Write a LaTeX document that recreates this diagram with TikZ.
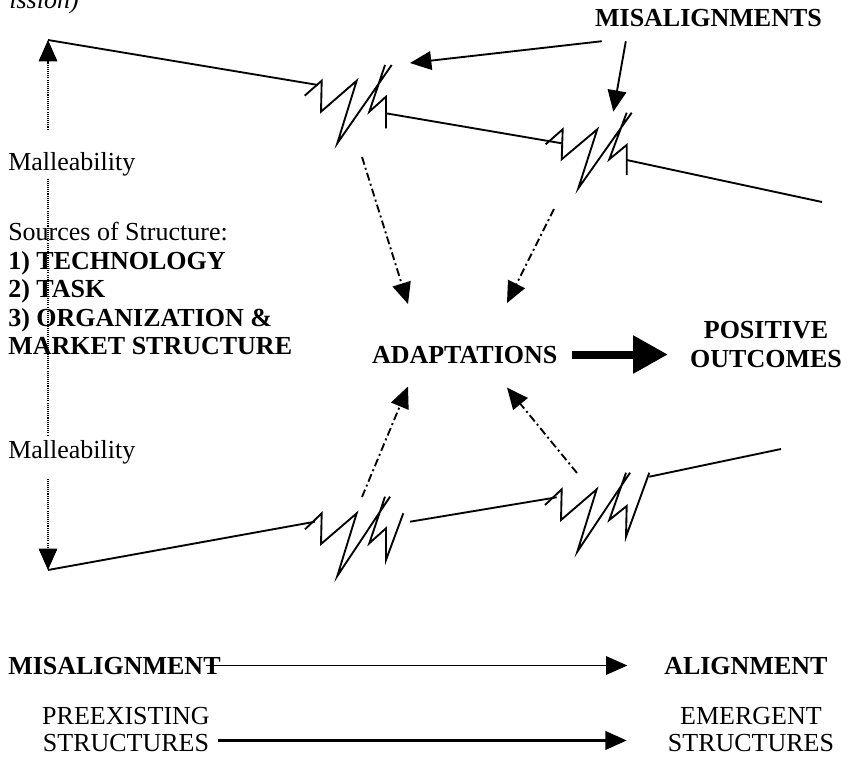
\documentclass[tikz,border=0pt]{standalone}
\usepackage{fontspec}
\setmainfont{Liberation Serif}
\usetikzlibrary{arrows.meta,calc}

\tikzset{
  lbl/.style={inner sep=0pt,font=\fontsize{19.5}{21.4}\selectfont},
  boldlbl/.style={inner sep=0pt,font=\fontsize{19.5}{21.4}\selectfont\bfseries},
  zig/.style={line width=1.4pt,line join=miter},
  arr/.style={line width=1.4pt,-{Triangle[length=16pt,width=14pt]}},
  dotarr/.style={line width=0.8pt,dash pattern=on 0.8pt off 0.8pt},
  dasharr/.style={arr,dash pattern=on 6pt off 2.5pt on 1.5pt off 2.5pt},
  bigarr/.style={line width=6pt,-{Triangle[length=26pt,width=27pt]}},
}

\begin{document}
\begin{tikzpicture}[x=0.75pt,y=0.75pt,yscale=-1,xscale=1]
	\useasboundingbox (0,0) rectangle (851,757);
	
	% Text Node
	\node [lbl,anchor=base east,font=\fontsize{19.5}{21.4}\selectfont\itshape] (perm) at (79,8) {ission)};
	% Text Node
	\node [boldlbl,anchor=base] (misalS) at (708.5,26.7) {MISALIGNMENTS};
	% Text Node
	\node [lbl,anchor=base west] (mall1) at (8,170) {Malleability};
	% Text Node
	\node [lbl,anchor=north west,align=left] (src) at (8,222) {Sources of Structure:\\\textbf{1) TECHNOLOGY}\\\textbf{2) TASK}\\\textbf{3) ORGANIZATION \&}\\\textbf{MARKET STRUCTURE}};
	% Text Node
	\node [boldlbl,anchor=base] (adapt) at (464.7,363) {ADAPTATIONS};
	% Text Node
	\node [boldlbl,anchor=north,align=center] (outc) at (766,321.5) {POSITIVE\\OUTCOMES};
	% Text Node
	\node [lbl,anchor=base west] (mall2) at (8,458) {Malleability};
	% Text Node
	\node [boldlbl,anchor=base west] (misal) at (8,674) {MISALIGNMENT};
	% Text Node
	\node [boldlbl,anchor=base west] (align) at (664,674) {ALIGNMENT};
	% Text Node
	\node [lbl,anchor=north,align=center,font=\fontsize{19.5}{20.2}\selectfont] (preex) at (126,707) {PREEXISTING\\STRUCTURES};
	% Text Node
	\node [lbl,anchor=north,align=center,font=\fontsize{19.5}{20.2}\selectfont] (emerg) at (751,707) {EMERGENT\\STRUCTURES};
	
	% ends of the structure lines
	\coordinate (tl) at (48,40);
	\coordinate (bl) at (48,570);
	\coordinate (z1a) at (410,63);
	\coordinate (z2a) at (613.3,111.7);
	\coordinate (zu1) at (362,157);
	\coordinate (zu2) at (554,209);
	\coordinate (zd1) at (362,497);
	\coordinate (zd2) at (577,473);
	
	%Straight Lines (upper structure)
	\draw [zig] (tl) -- (318,85);
	\draw [zig] (386,113.3) -- (561.7,143.3);
	\draw [zig] (626.7,160) -- (822,202);
	%Zigzag breaks
	\draw [zig,shift={(321.7,80.7)}] (-17,15) -- (0,0) -- (-0.7,31) -- (35,0) -- (15.6,62.6) -- (70,-15.7) (63.3,-15.7) -- (47.6,31) -- (64.3,16) -- (64.3,47.6);
	\draw [zig,shift={(562.7,129.3)}] (-17,15) -- (0,0) -- (-1,30) -- (34.6,0) -- (15.6,59) -- (69,-16.6) (64,-16.6) -- (46.6,30) -- (64,15.7) -- (64,45.7);
	
	%Straight Lines (lower structure)
	\draw [zig] (bl) -- (315,521.7);
	\draw [zig] (410,521.7) -- (556.7,497.3);
	\draw [zig] (649.3,476.7) -- (781,449);
	%Zigzag breaks
	\draw [zig,shift={(321.7,513.3)}] (-16.7,16) -- (0,0) -- (-0.7,30.7) -- (35,0) -- (15.6,62.7) -- (68.3,-16.6) (63.3,-16.6) -- (47.6,30) -- (64.3,15) -- (64.3,46.7) -- (81.6,0);
	\draw [zig,shift={(561.7,489.3)}] (-16.7,15.7) -- (0,0) -- (-0.7,30.7) -- (35,0) -- (15.6,62.4) -- (68.3,-16.6) (64.3,-16.6) -- (47.6,30.7) -- (65,16.7) -- (64.3,47.4) -- (87.6,-16.6);
	
	%Dotted malleability axis
	\draw [dotarr,-{Triangle[length=16pt,width=14pt]},shorten <=16.5pt] (mall1.north -| tl) -- (tl);
	\draw [dotarr,shorten <=2pt,shorten >=3pt] (mall1.south -| tl) -- (mall2.north -| tl);
	\draw [dotarr,-{Triangle[length=16pt,width=14pt]},shorten <=11pt] (mall2.south -| bl) -- (bl);
	
	%Arrows from label
	\draw [arr] ($(misalS.south west)+(7,14)$) -- (z1a);
	\draw [arr] ($(misalS.south west)+(31,14)$) -- (z2a);
	
	%Dash-dot arrows into adaptations
	\draw [dasharr] (zu1) -- ($(adapt.north)+(-56.7,-41.5)$);
	\draw [dasharr] (zu2) -- ($(adapt.north)+(42.3,-42.5)$);
	\draw [dasharr] (zd1) -- ($(adapt.south)+(-56.7,23)$);
	\draw [dasharr] (zd2) -- ($(adapt.south)+(42.3,24)$);
	
	%Thick arrow
	\draw [bigarr,shorten <=10.5pt,shorten >=16.5pt] (adapt.east) -- (adapt.east -| outc.west);
	
	%Bottom arrows
	\draw [arr,line width=1pt,shorten <=-11pt,shorten >=27.5pt] (misal.east) -- (misal.east -| align.west);
	\draw [arr,line width=1.6pt] ($(preex.east)+(8,11)$) -- ($(emerg.west)+(-41,11)$);
	
\end{tikzpicture}
\end{document}
